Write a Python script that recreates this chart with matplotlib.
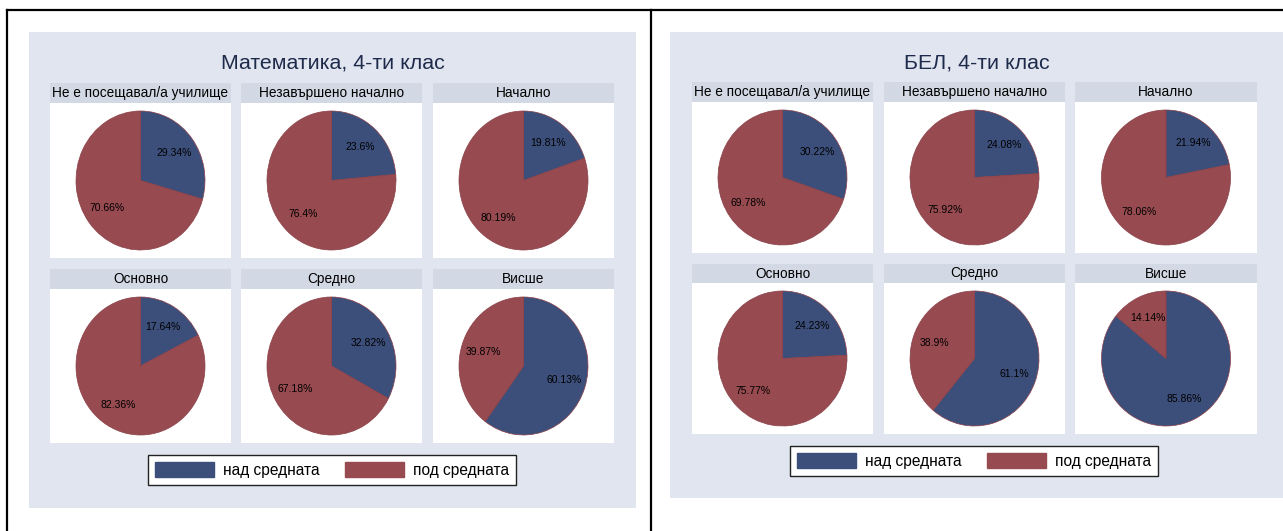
import matplotlib.pyplot as plt
import numpy as np
from matplotlib.patches import Rectangle, Patch
from matplotlib.lines import Line2D

plt.rcParams['font.family'] = ['Liberation Sans', 'DejaVu Sans']

# data
categories = ["Не е посещавал/а училище", "Незавършено начално", "Начално",
              "Основно", "Средно", "Висше"]
series_names = ["над средната", "под средната"]
math_above = [29.34, 23.6, 19.81, 17.64, 32.82, 60.13]
math_below = [70.66, 76.4, 80.19, 82.36, 67.18, 39.87]
bel_above = [30.22, 24.08, 21.94, 24.23, 61.1, 85.86]
bel_below = [69.78, 75.92, 78.06, 75.77, 38.9, 14.14]
titles = ["Математика, 4-ти клас", "БЕЛ, 4-ти клас"]

BLUE = '#3c4f7b'
RED = '#974a50'
BG = '#e0e5f0'
HEAD = '#d3d9e4'

W, H = 1283, 531
fig = plt.figure(figsize=(W / 100, H / 100), dpi=100)


def fx(x):
    return x / W


def fy(y):
    return 1 - y / H


def rect(x0, y0, x1, y1, **kw):
    fig.add_artist(Rectangle((fx(x0), fy(y1)), fx(x1) - fx(x0), fy(y0) - fy(y1),
                             transform=fig.transFigure, **kw))


# outer black frame lines
fig.add_artist(Line2D([fx(7), fx(7)], [fy(10), 0], color='black', lw=1.6, transform=fig.transFigure))
fig.add_artist(Line2D([fx(7), 1], [fy(10), fy(10)], color='black', lw=1.6, transform=fig.transFigure))
fig.add_artist(Line2D([fx(651), fx(651)], [fy(10), 0], color='black', lw=1.6, transform=fig.transFigure))

panels = [
    dict(bg=(29, 32, 636, 508), title_y=63,
         cols=[(50, 231), (241, 422), (433, 614)],
         rows=[(83, 103, 258), (269, 289, 443)],
         legend_y=470, legend_x=332,
         above=math_above, below=math_below),
    dict(bg=(670, 32, 1283, 498), title_y=63,
         cols=[(692, 873), (884, 1065), (1075, 1257)],
         rows=[(82, 102, 253), (264, 283, 434)],
         legend_y=461, legend_x=974,
         above=bel_above, below=bel_below),
]

for pi, p in enumerate(panels):
    x0, y0, x1, y1 = p['bg']
    rect(x0, y0, x1, y1, facecolor=BG, edgecolor='none', zorder=0)
    fig.text(fx((x0 + x1) / 2), fy(p['title_y']), titles[pi], ha='center', va='center',
             fontsize=15.4, color='#1e2a4a')
    for k in range(6):
        r, c = divmod(k, 3)
        cx0, cx1 = p['cols'][c]
        ht, hb, wb = p['rows'][r]
        rect(cx0, ht, cx1, hb, facecolor=HEAD, edgecolor='none', zorder=0.5)
        rect(cx0, hb, cx1, wb, facecolor='white', edgecolor='none', zorder=0.5)
        fig.text(fx((cx0 + cx1) / 2), fy((ht + hb) / 2), categories[k], ha='center',
                 va='center', fontsize=9.8, color='black')
        ccx = (cx0 + cx1) / 2
        pw = 129
        ax = fig.add_axes([fx(ccx - pw / 2), fy(wb - 8), pw / W, (wb - hb - 16) / H])
        ax.set_zorder(2)
        vals = [p['above'][k], p['below'][k]]
        wedges, _ = ax.pie(vals, colors=[BLUE, RED], startangle=90, counterclock=False,
                           wedgeprops=dict(edgecolor='#8a4048', linewidth=0.5))
        for w, v in zip(wedges, vals):
            th = np.deg2rad((w.theta1 + w.theta2) / 2)
            ax.text(0.66 * np.cos(th), 0.66 * np.sin(th), f'{v:g}%', ha='center',
                    va='center', fontsize=7.5, color='black')
        ax.set_aspect('auto')
        ax.set_xlim(-1, 1)
        ax.set_ylim(-1, 1)
        ax.axis('off')

    handles = [Patch(facecolor=BLUE, edgecolor=BLUE), Patch(facecolor=RED, edgecolor=RED)]
    leg = fig.legend(handles, series_names, loc='center',
                     bbox_to_anchor=(fx(p['legend_x']), fy(p['legend_y'])),
                     ncol=2, fontsize=11.2, frameon=True, fancybox=False, framealpha=1,
                     handlelength=3.8, handleheight=1.1, handletextpad=0.6,
                     columnspacing=1.6, borderpad=0.45)
    leg.get_frame().set_edgecolor('#222222')
    leg.get_frame().set_linewidth(1.0)
    leg.get_frame().set_facecolor('white')
    leg.set_zorder(3)

fig.savefig('out.png', dpi=100)
